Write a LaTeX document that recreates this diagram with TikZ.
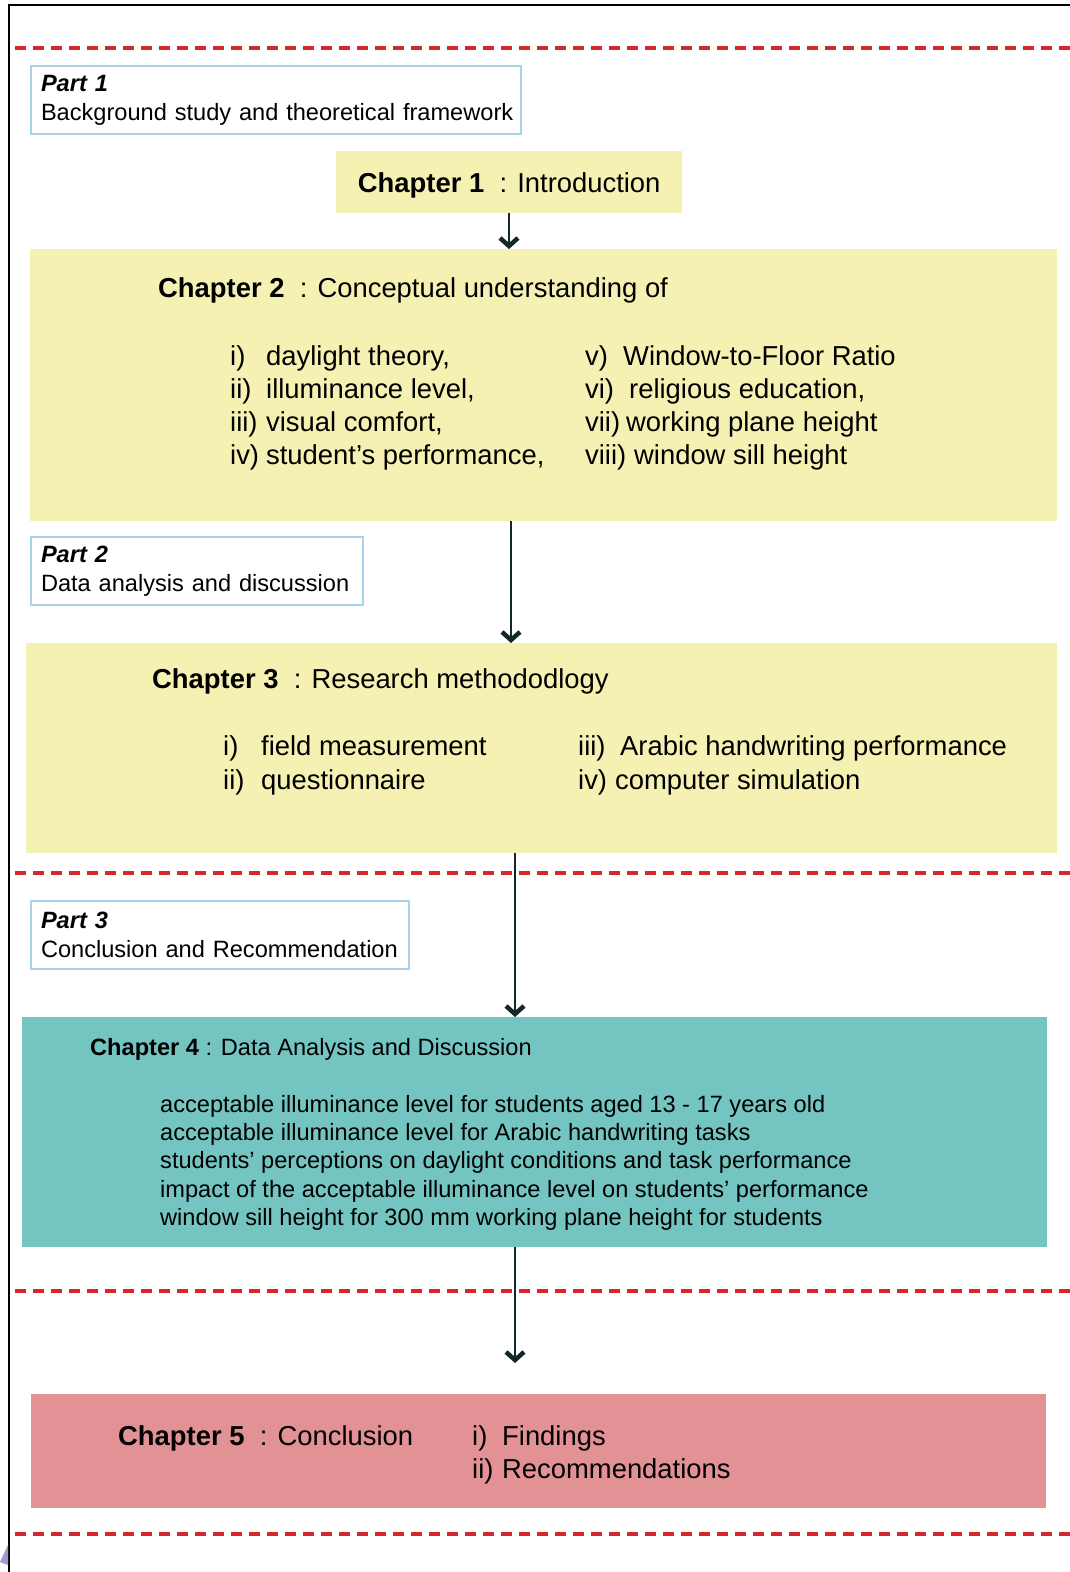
\documentclass[tikz,border=0pt]{standalone}
\usepackage{fontspec}
\setmainfont{Liberation Sans}
\usetikzlibrary{arrows.meta}
\definecolor{chyellow}{HTML}{F4F1B2}
\definecolor{chteal}{HTML}{74C5C1}
\definecolor{chpink}{HTML}{E29194}
\definecolor{partblue}{HTML}{A9D3E8}
\definecolor{sepred}{HTML}{D7272C}
\definecolor{arrdark}{HTML}{122828}
\newcommand{\chfont}{\fontsize{27.4}{33}\selectfont}
\newcommand{\partfont}{\fontsize{23.6}{29}\selectfont}
\newcommand{\lab}[2][36pt]{\makebox[#1][l]{#2}}
\begin{document}
\begin{tikzpicture}[x=1pt, y=-1pt,
    partbox/.style = {draw=partblue, line width=2pt, anchor=north west, align=left, inner xsep=10pt, font=\partfont},
    chbox/.style = {anchor=north west, inner sep=0pt},
    txt/.style = {anchor=base west, inner sep=0pt, font=\chfont},
    smalltxt/.style = {anchor=base west, inner sep=0pt, font=\partfont},
    sep/.style = {sepred, line width=4pt, dash pattern=on 11pt off 7pt},
    arr/.style = {arrdark, line width=2pt, -{Straight Barb[length=8pt, width=18pt, line width=4.5pt]}}]
\useasboundingbox (0,0) rectangle (1070,1572);
% frame and part separators
\draw[line width=2.5pt] (9,1572) -- (9,5) -- (1070,5);
\fill[gray!70!blue!60] (0,1562) -- (8,1545) -- (8,1565) -- cycle;
\draw[sep] (15,48) -- (1070,48);
\draw[sep] (15,873) -- (1070,873);
\draw[sep] (15,1291) -- (1070,1291);
\draw[sep] (15,1534) -- (1070,1534);
% part 1
\node[partbox, text width=470pt, minimum height=68pt] (p1) at (30,65) {\textbf{\textit{Part 1}}\\\mbox{Background study and theoretical framework}};
\node[chbox, fill=chyellow, minimum width=346pt, minimum height=62pt, text height=20pt, text depth=0pt, font=\chfont] (ch1) at (336,151) {\textbf{Chapter 1}~~: Introduction};
\node[chbox, fill=chyellow, minimum width=1027pt, minimum height=272pt] (ch2) at (30,249) {};
\node[txt] (ch2t) at (158,297) {\textbf{Chapter 2}~~: Conceptual understanding of};
\foreach \t [count=\i] in {{\lab{i)}daylight theory,}, {\lab{ii)}illuminance level,}, {\lab{iii)}visual comfort,}, {\lab{iv)}student’s performance,}}
  \node[txt] (ch2a\i) at (230,{365+33.3*(\i-1)}) {\t};
\foreach \t [count=\i] in {{\lab[38pt]{v)}Window-to-Floor Ratio}, {\lab[44pt]{vi)}religious education,}, {\lab[41pt]{vii)}working plane height}, {\lab[49pt]{viii)}window sill height}}
  \node[txt] (ch2b\i) at (585,{365+33.3*(\i-1)}) {\t};
% part 2
\node[partbox, text width=312pt, minimum height=68pt] (p2) at (30,536) {\textbf{\textit{Part 2}}\\\mbox{Data analysis and discussion}};
\node[chbox, fill=chyellow, minimum width=1031pt, minimum height=210pt] (ch3) at (26,643) {};
\node[txt] (ch3t) at (152,688) {\textbf{Chapter 3}~~: Research methododlogy};
\node[txt] (ch3a1) at (223,755) {\lab[38pt]{i)}field measurement};
\node[txt] (ch3a2) at (223,789) {\lab[38pt]{ii)}questionnaire};
\node[txt] (ch3b1) at (578,755) {\lab[42pt]{iii)}Arabic handwriting performance};
\node[txt] (ch3b2) at (578,789) {\lab[37pt]{iv)}computer simulation};
% part 3
\node[partbox, text width=358pt, minimum height=68pt] (p3) at (30,900) {\textbf{\textit{Part 3}}\\\mbox{Conclusion and Recommendation}};
\node[chbox, fill=chteal, minimum width=1025pt, minimum height=230pt] (ch4) at (22,1017) {};
\node[smalltxt] (ch4t) at (90,1055) {\textbf{Chapter 4} : Data Analysis and Discussion};
\foreach \t [count=\i] in {acceptable illuminance level for students aged 13 - 17 years old, acceptable illuminance level for Arabic handwriting tasks, students’ perceptions on daylight conditions and task performance, impact of the acceptable illuminance level on students’ performance, window sill height for 300 mm working plane height for students}
  \node[smalltxt] (ch4l\i) at (160,{1112+28.4*(\i-1)}) {\t};
\node[chbox, fill=chpink, minimum width=1015pt, minimum height=114pt] (ch5) at (31,1394) {};
\node[txt] (ch5t) at (118,1445) {\textbf{Chapter 5}~~: Conclusion};
\node[txt] (ch5a) at (472,1445) {\lab[30pt]{i)}Findings};
\node[txt] (ch5b) at (472,1478) {\lab[30pt]{ii)}Recommendations};
% connectors
\coordinate (a1) at (509,0);
\coordinate (a2) at (511,0);
\coordinate (a3) at (515,0);
\coordinate (a4end) at (515,1363);
\draw[arr] (a1 |- ch1.south) -- (a1 |- ch2.north);
\draw[arr] (a2 |- ch2.south) -- (a2 |- ch3.north);
\draw[arr] (a3 |- ch3.south) -- (a3 |- ch4.north);
\draw[arr] (a3 |- ch4.south) -- (a4end);
\end{tikzpicture}
\end{document}
